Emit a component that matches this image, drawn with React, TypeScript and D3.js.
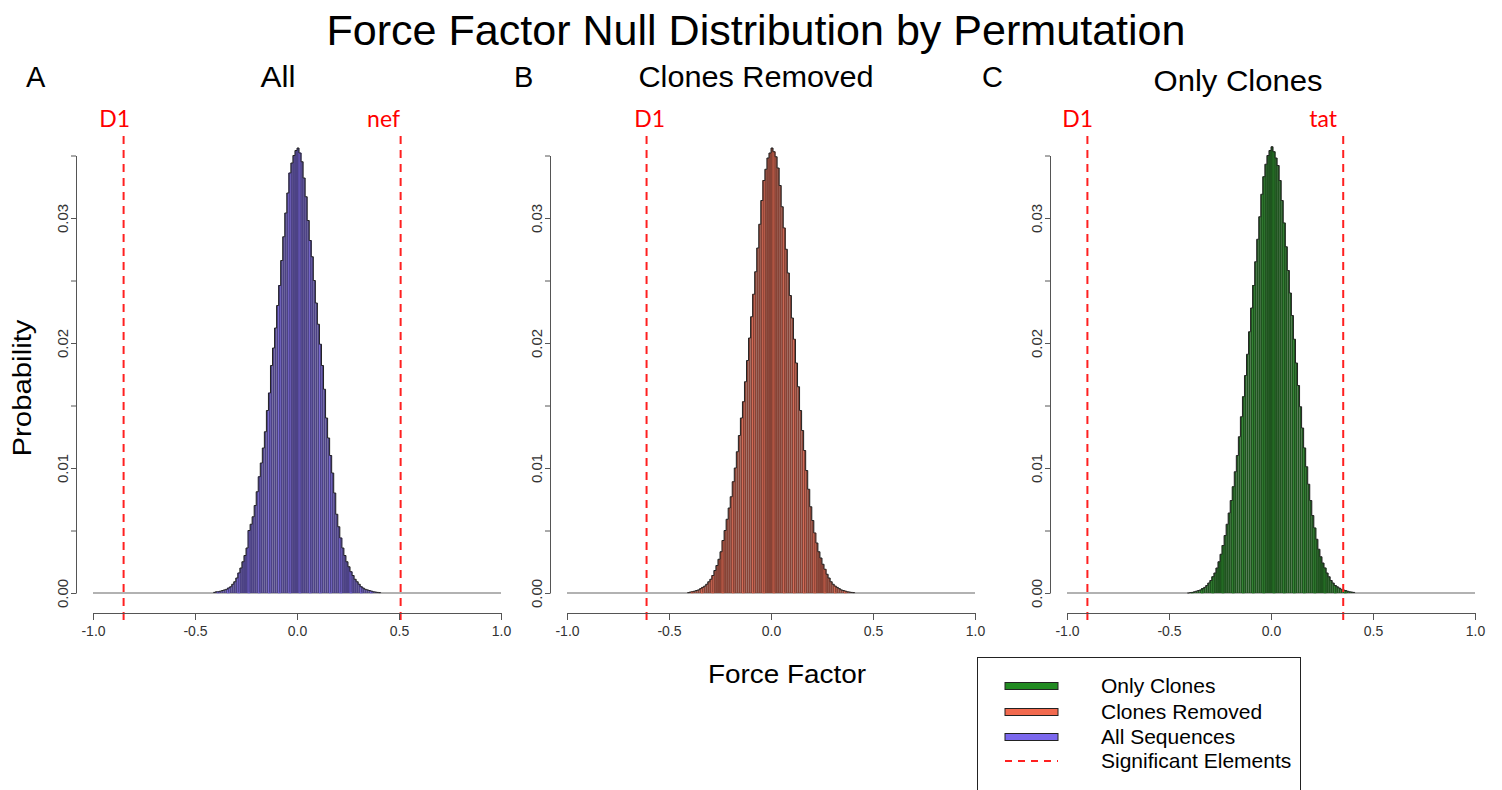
import React, { useEffect, useRef } from 'react';
import * as d3 from 'd3';

// histogram bins: left edge of first bin and bin width (Force Factor units)
const binStart = -0.41;
const binWidth = 0.01;

// probability x 1000 for every bin
const allSequences = [
  0.05, 0.1, 0.1, 0.15, 0.2, 0.25, 0.3, 0.4, 0.5, 0.7,
  0.9, 1.2, 1.6, 2.0, 2.5, 3.0, 3.6, 5.0, 5.5, 6.1,
  7.0, 8.1, 9.3, 10.4, 11.6, 12.9, 14.6, 16.0, 18.2, 19.6,
  21.2, 23.0, 24.6, 26.6, 28.5, 30.4, 32.0, 33.6, 34.4, 35.0,
  35.4, 35.6, 35.2, 34.5, 33.2, 31.7, 29.8, 28.2, 26.9, 25.0,
  23.2, 21.5, 19.9, 18.2, 16.3, 14.0, 12.4, 11.0, 9.6, 8.0,
  6.3, 5.3, 4.4, 3.6, 3.0, 2.5, 2.1, 1.7, 1.4, 1.1,
  0.9, 0.7, 0.5, 0.4, 0.3, 0.25, 0.2, 0.15, 0.1, 0.08,
  0.05, 0.03,
];
const clonesRemoved = [
  0.03, 0.08, 0.1, 0.15, 0.2, 0.25, 0.35, 0.45, 0.55, 0.7,
  0.9, 1.1, 1.4, 1.8, 2.2, 2.7, 3.3, 4.2, 5.0, 5.9,
  6.8, 7.7, 8.9, 10.0, 11.3, 12.6, 14.0, 15.3, 16.9, 18.6,
  20.4, 22.1, 23.9, 25.7, 27.6, 29.5, 31.4, 33.0, 33.9, 34.8,
  35.2, 35.6, 35.3, 34.9, 34.0, 32.6, 30.9, 29.2, 27.5, 25.6,
  23.8, 22.0, 20.3, 18.4, 16.5, 14.6, 13.0, 11.4, 9.8, 8.3,
  6.9, 5.8, 4.8, 4.0, 3.3, 2.8, 2.3, 1.9, 1.5, 1.2,
  0.9, 0.7, 0.55, 0.45, 0.35, 0.25, 0.2, 0.15, 0.1, 0.08,
  0.05, 0.03,
];
const onlyClones = [
  0.0, 0.03, 0.05, 0.1, 0.15, 0.2, 0.25, 0.35, 0.45, 0.6,
  0.8, 1.0, 1.3, 1.6, 2.0, 2.5, 3.1, 3.8, 4.6, 5.5,
  6.4, 7.4, 8.5, 9.7, 11.0, 12.5, 14.1, 15.7, 17.4, 19.1,
  20.9, 22.8, 24.6, 26.5, 28.3, 30.1, 31.9, 33.3, 34.3, 35.0,
  35.4, 35.7, 35.3, 34.8, 34.2, 33.0, 31.4, 29.6, 27.7, 25.8,
  24.0, 22.2, 20.3, 18.4, 16.6, 14.9, 13.2, 11.6, 10.1, 8.7,
  7.4, 6.2, 5.2, 4.3, 3.5, 2.9, 2.4, 2.0, 1.6, 1.3,
  1.0, 0.8, 0.6, 0.5, 0.4, 0.3, 0.25, 0.2, 0.15, 0.1,
  0.08, 0.05,
];

const panelLetters = ['A', 'B', 'C'];
const panelTitles = ['All', 'Clones Removed', 'Only Clones'];
const panelSeries = [allSequences, clonesRemoved, onlyClones];

// significant elements (dashed lines) per panel
const sigNames = [['D1', 'nef'], ['D1'], ['D1', 'tat']];
const sigValues = [[-0.85, 0.508], [-0.61], [-0.9, 0.354]];

const xTicks = [-1, -0.5, 0, 0.5, 1];
const yTicks = [0, 0.005, 0.01, 0.015, 0.02, 0.025, 0.03, 0.035];
const yMax = 0.035;

const legendLabels = ['Only Clones', 'Clones Removed', 'All Sequences', 'Significant Elements'];

// styling / layout
const FONT = '"Liberation Sans", Arial, sans-serif';
const SIG_FONT = 'Lato, "Open Sans", sans-serif';
const fills = ['#7B68EE', '#F26A4F', '#228B22'];
const plotLeft = [93, 567, 1067];
const plotWidth = 408;
const plotTop = 155.5;
const plotBase = 593;
const xAxisY = 613;
const titleX = [278, 756, 1238];
const titleLen = [35, 235, 169];
const letterX = [26, 514, 982];
const sigLabelEnd = [[130, 400], [665], [1093, 1337]];

const Panel = ({ idx }: { idx: number }) => {
  const xRef = useRef<SVGGElement>(null);
  const yRef = useRef<SVGGElement>(null);
  const left = plotLeft[idx];
  const x = d3.scaleLinear().domain([-1, 1]).range([left, left + plotWidth]);
  const y = d3.scaleLinear().domain([0, yMax]).range([plotBase, plotTop]);
  const values = panelSeries[idx];
  const bw = x(binWidth) - x(0);
  const dark = d3.interpolateRgb(fills[idx], '#1c1c1c')(0.5);

  // outline of the histogram (step shape)
  const outline = d3.line<[number, number]>()
    .x((d) => d[0]).y((d) => d[1])
    .curve(d3.curveStepAfter)(
      [...values.map((v, i) => [x(binStart + i * binWidth), y(v / 1000)] as [number, number]),
        [x(binStart + values.length * binWidth), y(0)]]
    );

  useEffect(() => {
    const gx = d3.select(xRef.current!);
    gx.call(
      d3.axisBottom(x).tickValues(xTicks).tickSize(7).tickSizeOuter(0).tickPadding(6)
        .tickFormat((d) => (+d).toFixed(1))
    );
    gx.select('.domain').attr('stroke', '#555');
    gx.selectAll('.tick line').attr('stroke', '#555');
    gx.selectAll('.tick text').attr('fill', '#333').style('font-size', '14px').style('font-family', FONT);

    const gy = d3.select(yRef.current!);
    gy.call(
      d3.axisLeft(y).tickValues(yTicks).tickSize(5).tickSizeOuter(0)
        .tickFormat((d, i) => (i % 2 === 0 ? (+d).toFixed(2) : ''))
    );
    gy.select('.domain').attr('stroke', '#555');
    gy.selectAll('.tick line').attr('stroke', '#555');
    gy.selectAll('.tick text')
      .attr('fill', '#333')
      .attr('transform', 'rotate(-90)')
      .attr('x', 0)
      .attr('y', -8)
      .attr('dy', 0)
      .style('text-anchor', 'middle')
      .style('font-size', '15px')
      .style('font-family', FONT);
  }, []);

  return (
    <g>
      <text x={letterX[idx]} y={87} fontSize={29} fontFamily={FONT}>{panelLetters[idx]}</text>
      <text x={titleX[idx]} y={idx === 2 ? 91 : 87} fontSize={29} fontFamily={FONT} textAnchor="middle"
        textLength={titleLen[idx]} lengthAdjust="spacingAndGlyphs">{panelTitles[idx]}</text>

      <line x1={x(-1)} x2={x(1)} y1={y(0)} y2={y(0)} stroke="#666" strokeWidth={1.2} />
      {values.map((v, i) => (
        <rect key={i}
          x={x(binStart + i * binWidth)}
          y={y(v / 1000)}
          width={bw}
          height={y(0) - y(v / 1000)}
          fill={dark}
          stroke={i % 5 === 2 ? fills[idx] : 'none'}
          strokeWidth={0.6}
        />
      ))}
      <path d={outline ?? ''} fill="none" stroke="#222" strokeWidth={1} />

      {sigValues[idx].map((s, j) => (
        <g key={j}>
          <line x1={x(s)} x2={x(s)} y1={136} y2={620} stroke="#FF2020" strokeWidth={2} strokeDasharray="8,6" />
          <text x={sigLabelEnd[idx][j]} y={127} fill="#FF0000" fontSize={23} fontFamily={SIG_FONT}
            textAnchor="end">{sigNames[idx][j]}</text>
        </g>
      ))}

      <g ref={xRef} transform={`translate(0,${xAxisY})`} />
      <g ref={yRef} transform={`translate(${left - 17},0)`} />
    </g>
  );
};

const App = () => {
  const legendY = [686, 712, 737];
  return (
    <svg width={1502} height={790} style={{ display: 'block', position: 'absolute', left: 0, top: 0, background: '#fff' }}>
      <rect x={0} y={0} width={1502} height={790} fill="#fff" />
      <text x={756} y={45} fontSize={42} fontFamily={FONT} textAnchor="middle" textLength={859}
        lengthAdjust="spacingAndGlyphs">Force Factor Null Distribution by Permutation</text>

      {panelTitles.map((_, i) => <Panel key={i} idx={i} />)}

      <text transform="translate(31,388) rotate(-90)" fontSize={26} fontFamily={FONT} textAnchor="middle"
        textLength={137} lengthAdjust="spacingAndGlyphs">Probability</text>
      <text x={787} y={683} fontSize={25} fontFamily={FONT} textAnchor="middle" textLength={158}
        lengthAdjust="spacingAndGlyphs">Force Factor</text>

      <g>
        <rect x={977.5} y={657.5} width={323} height={150} fill="none" stroke="#222" strokeWidth={1} />
        {legendLabels.map((lab, i) => {
          const cy = i < 3 ? legendY[i] : 761;
          return (
            <g key={lab}>
              {i < 3 ? (
                <rect x={1005} y={cy - 3.5} width={53} height={7} fill={fills[2 - i]} stroke="#222" strokeWidth={1} />
              ) : (
                <line x1={1005} x2={1058} y1={cy} y2={cy} stroke="#FF2020" strokeWidth={2} strokeDasharray="7,6" />
              )}
              <text x={1101} y={cy + 7} fontSize={21} fontFamily={FONT}>{lab}</text>
            </g>
          );
        })}
      </g>
    </svg>
  );
};

export default App;
